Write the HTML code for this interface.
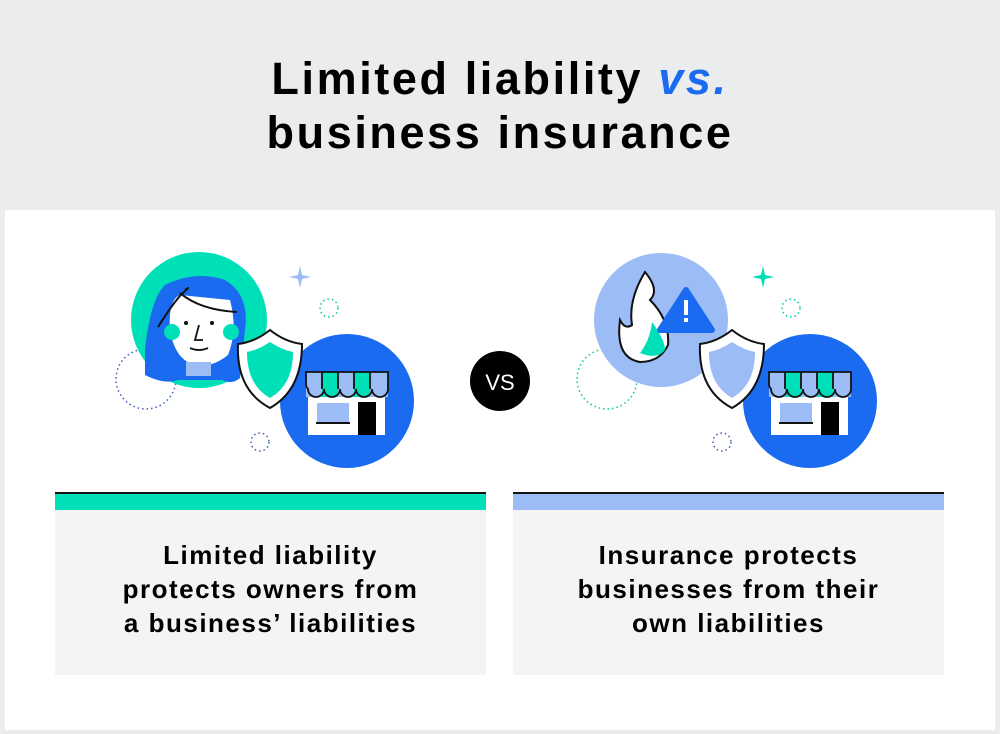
<!DOCTYPE html>
<html><head><meta charset="utf-8"><style>
body{margin:0;width:1000px;height:734px;background:#ebeced;font-family:"Liberation Sans",sans-serif;position:relative;overflow:hidden}
.card{position:absolute;left:5px;top:210px;width:990px;height:520px;background:#fff}
.title{position:absolute;left:0;top:52px;width:1000px;text-align:center;font-weight:bold;font-size:45px;letter-spacing:2.6px;line-height:54px;color:#000}
.box{position:absolute;top:510px;width:431px;height:165px;background:#f4f4f5;text-align:center;font-weight:bold;font-size:26px;letter-spacing:1.5px;line-height:34px;box-sizing:border-box;padding-top:28px}
.bar{position:absolute;top:492px;width:431px;height:18px;border-top:2px solid #111;box-sizing:border-box}
</style></head><body>
<div class="title">Limited liability <span style="color:#1a6bf0;font-style:italic">vs.</span><br>business insurance</div>
<div class="card"></div>
<div class="bar" style="left:55px;background:#00e0b8"></div>
<div class="bar" style="left:513px;background:#9bbcf5"></div>
<div class="box" style="left:55px">Limited liability<br>protects owners from<br>a business’ liabilities</div>
<div class="box" style="left:513px">Insurance protects<br>businesses from their<br>own liabilities</div>
<svg width="1000" height="734" style="position:absolute;left:0;top:0">
<circle cx="146" cy="379" r="30" fill="none" stroke="#3d5fb5" stroke-width="1.5" stroke-dasharray="1.5 3"/>
<circle cx="260" cy="442" r="9" fill="none" stroke="#3d5fb5" stroke-width="1.5" stroke-dasharray="1.5 3"/>
<circle cx="329" cy="308" r="9" fill="none" stroke="#00c9a0" stroke-width="1.5" stroke-dasharray="1.5 3"/>
<path d="M300 266 L302 275 L311 277 L302 279 L300 288 L298 279 L289 277 L298 275Z" fill="#9bbcf5"/>
<circle cx="199" cy="320" r="68" fill="#00e0b8"/>
<path d="M145 350 Q150 300 165 285 Q195 270 225 280 Q250 295 245 330 L240 378 Q232 385 222 380 L178 380 Q165 385 145 375 Z" fill="#1a6bf0"/>
<path d="M170 330 Q168 300 180 295 L230 300 Q238 330 228 355 Q212 368 195 365 Q175 360 170 330Z" fill="#fff"/>
<circle cx="172" cy="332" r="8" fill="#00e0b8"/><circle cx="231" cy="332" r="8" fill="#00e0b8"/>
<rect x="186" y="362" width="25" height="14" fill="#9bbcf5"/>
<path d="M158 327 Q175 300 183 293 Q192 285 185 290 M180 293 Q200 310 237 312" stroke="#111" stroke-width="2" fill="none"/>
<circle cx="186" cy="323" r="2" fill="#111"/><circle cx="212" cy="323" r="2" fill="#111"/>
<path d="M199 325 L195 340 L203 340 M190 348 Q199 352 208 348" stroke="#111" stroke-width="1.8" fill="none"/>
<circle cx="347" cy="401" r="67" fill="#1a6bf0"/>
<path d="M270 330 Q255 342 238 344 Q236 390 270 408 Q302 390 302 344 Q285 342 270 330Z" fill="#fff" stroke="#111" stroke-width="2"/>
<path d="M270 342 Q258 350 247 352 Q247 385 270 398 Q293 385 293 352 Q282 350 270 342Z" fill="#00e0b8"/>
<g>
<rect x="308" y="396" width="77" height="39" fill="#fff"/>
<rect x="317" y="403" width="32" height="20" fill="#9bbcf5"/><rect x="316" y="422" width="34" height="2" fill="#111"/>
<rect x="358" y="402" width="18" height="33" fill="#000"/>
<rect x="306" y="372" width="82" height="25" fill="#9bbcf5"/>
<rect x="322" y="372" width="16" height="25" fill="#00e0b8"/><rect x="354" y="372" width="16" height="25" fill="#00e0b8"/>
<path d="M306 372 H388 V389 a8 8 0 0 1-16 0 a8 8 0 0 1-16 0 a8 8 0 0 1-16 0 a8 8 0 0 1-16 0 a8 8 0 0 1-16 0 a 8 8 0 0 1 -2 -4Z M322 372 V389 M338 372 V389 M354 372 V389 M370 372 V389" fill="none" stroke="#111" stroke-width="1.8"/>
</g>
<circle cx="500" cy="381" r="30" fill="#000"/>
<text x="500" y="390" font-family="Liberation Sans" font-size="22" fill="#fff" text-anchor="middle">VS</text>
<circle cx="607" cy="379" r="30" fill="none" stroke="#00c9a0" stroke-width="1.5" stroke-dasharray="1.5 3"/>
<circle cx="722" cy="442" r="9" fill="none" stroke="#3d5fb5" stroke-width="1.5" stroke-dasharray="1.5 3"/>
<circle cx="791" cy="308" r="9" fill="none" stroke="#00c9a0" stroke-width="1.5" stroke-dasharray="1.5 3"/>
<path d="M763 266 L765 275 L774 277 L765 279 L763 288 L761 279 L752 277 L761 275Z" fill="#00e0b8"/>
<circle cx="661" cy="320" r="67" fill="#9bbcf5"/>
<path d="M645 272 Q660 290 650 300 Q670 320 668 345 Q660 362 640 362 Q615 358 620 320 Q625 330 632 325 Q628 300 645 272Z" fill="#fff" stroke="#111" stroke-width="2"/>
<path d="M640 353 Q650 340 652 322 Q665 340 665 350 Q658 360 640 353Z" fill="#00e0b8"/>
<path d="M686 290 L712 330 L660 330Z" fill="#1a6bf0" stroke="#1a6bf0" stroke-width="6" stroke-linejoin="round"/>
<rect x="684" y="300" width="4" height="15" fill="#fff"/><rect x="684" y="318" width="4" height="4" fill="#fff"/>
<circle cx="810" cy="401" r="67" fill="#1a6bf0"/>
<path d="M732 330 Q717 342 700 344 Q698 390 732 408 Q764 390 764 344 Q747 342 732 330Z" fill="#fff" stroke="#111" stroke-width="2"/>
<path d="M732 342 Q720 350 709 352 Q709 385 732 398 Q755 385 755 352 Q744 350 732 342Z" fill="#9bbcf5"/>
<g transform="translate(463 0)">
<rect x="308" y="396" width="77" height="39" fill="#fff"/>
<rect x="317" y="403" width="32" height="20" fill="#9bbcf5"/><rect x="316" y="422" width="34" height="2" fill="#111"/>
<rect x="358" y="402" width="18" height="33" fill="#000"/>
<rect x="306" y="372" width="82" height="25" fill="#9bbcf5"/>
<rect x="322" y="372" width="16" height="25" fill="#00e0b8"/><rect x="354" y="372" width="16" height="25" fill="#00e0b8"/>
<path d="M306 372 H388 V389 a8 8 0 0 1-16 0 a8 8 0 0 1-16 0 a8 8 0 0 1-16 0 a8 8 0 0 1-16 0 a8 8 0 0 1-16 0 a 8 8 0 0 1 -2 -4Z M322 372 V389 M338 372 V389 M354 372 V389 M370 372 V389" fill="none" stroke="#111" stroke-width="1.8"/>
</g>
</svg>
</body></html>
